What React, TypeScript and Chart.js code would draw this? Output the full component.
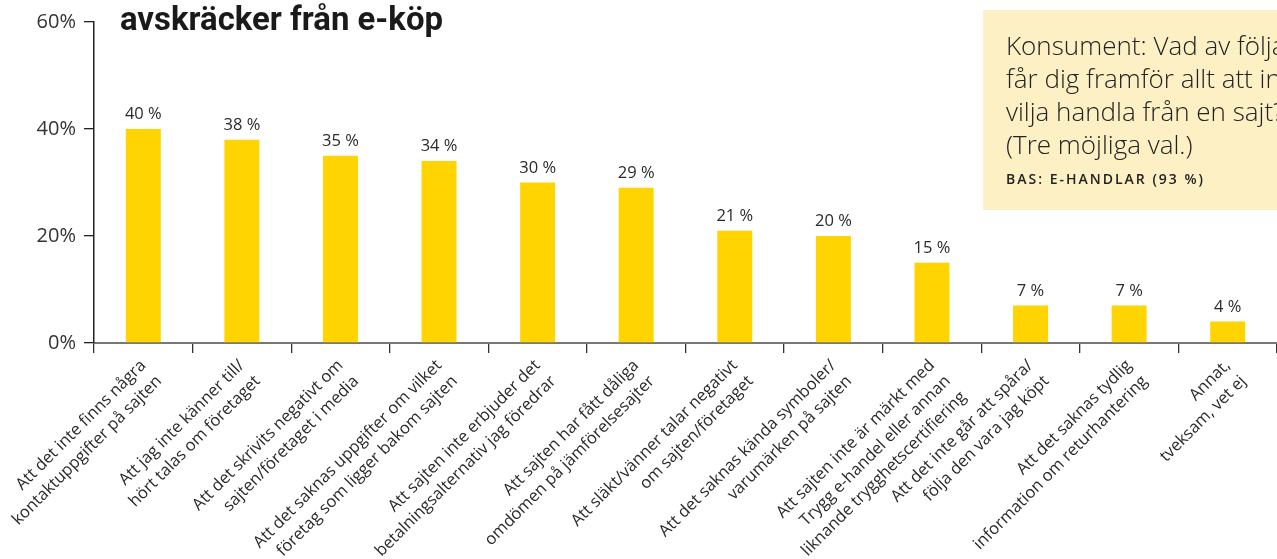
import React, { useEffect, useRef } from "react";
import { Chart, registerables } from "chart.js";

Chart.register(...registerables);

const categories: string[][] = [
  ["Att det inte finns några", "kontaktuppgifter på sajten"],
  ["Att jag inte känner till/", "hört talas om företaget"],
  ["Att det skrivits negativt om", "sajten/företaget i media"],
  ["Att det saknas uppgifter om vilket", "företag som ligger bakom sajten"],
  ["Att sajten inte erbjuder det", "betalningsalternativ jag föredrar"],
  ["Att sajten har fått dåliga", "omdömen på jämförelsesajter"],
  ["Att släkt/vänner talar negativt", "om sajten/företaget"],
  ["Att det saknas kända symboler/", "varumärken på sajten"],
  ["Att sajten inte är märkt med", "Trygg e-handel eller annan", "liknande trygghetscertifiering"],
  ["Att det inte går att spåra/", "följa den vara jag köpt"],
  ["Att det saknas tydlig", "information om returhantering"],
  ["Annat,", "tveksam, vet ej"],
];

const values: number[] = [40, 38, 35, 34, 30, 29, 21, 20, 15, 7, 7, 4];

const yTicks: number[] = [0, 20, 40, 60];

const titleText = "avskräcker från e-köp";
const boxLines: string[] = [
  "Konsument: Vad av följande",
  "får dig framför allt att inte",
  "vilja handla från en sajt?",
  "(Tre möjliga val.)",
];
const boxBase = "BAS: E-HANDLAR (93 %)";

const BAR = "#FFD400";
const TEXT = "#2a2a2a";
const FONT = '"Open Sans", "Noto Sans", sans-serif';

const W = 1277;
const H = 559;

const decorPlugin = {
  id: "decor",
  afterDatasetsDraw(chart: any) {
    const ctx = chart.ctx;
    const meta = chart.getDatasetMeta(0);
    ctx.save();
    ctx.font = `400 16.5px ${FONT}`;
    ctx.fillStyle = TEXT;
    ctx.textAlign = "center";
    ctx.textBaseline = "alphabetic";
    meta.data.forEach((bar: any, i: number) => {
      ctx.fillText(`${values[i]} %`, bar.x, bar.y - 10);
    });
    ctx.restore();
  },
  afterDraw(chart: any) {
    const ctx = chart.ctx;
    ctx.save();
    // title (cut at top)
    ctx.font = `700 34px Roboto, ${FONT}`;
    ctx.fillStyle = "#1a1a1a";
    ctx.textAlign = "left";
    ctx.textBaseline = "alphabetic";
    const tw = ctx.measureText(titleText).width;
    ctx.save();
    ctx.translate(120, 30);
    ctx.scale(323 / tw, 1);
    ctx.fillText(titleText, 0, 0);
    ctx.restore();

    // info box
    ctx.fillStyle = "#FDF0C5";
    ctx.fillRect(983, 10, 320, 200);
    ctx.fillStyle = "#222222";
    ctx.font = `300 26px ${FONT}`;
    const bases = [55, 88, 121, 154];
    boxLines.forEach((l, i) => ctx.fillText(l, 1006, bases[i]));
    ctx.font = `600 14px ${FONT}`;
    (ctx as any).letterSpacing = "2px";
    ctx.fillText(boxBase, 1006, 184);
    ctx.restore();
  },
};

export default function App() {
  const ref = useRef<HTMLCanvasElement | null>(null);

  useEffect(() => {
    if (!ref.current) return;
    const chart = new Chart(ref.current, {
      type: "bar",
      data: {
        labels: categories,
        datasets: [
          {
            data: values,
            backgroundColor: BAR,
            borderWidth: 0,
            barPercentage: 1,
            categoryPercentage: 0.355,
          },
        ],
      },
      options: {
        animation: false,
        responsive: false,
        devicePixelRatio: 1,
        layout: { padding: { top: 22, right: 0, left: 0, bottom: 0 } },
        plugins: {
          legend: { display: false },
          tooltip: { enabled: false },
        },
        scales: {
          x: {
            offset: true,
            grid: {
              offset: true,
              drawOnChartArea: false,
              drawTicks: true,
              tickLength: 10,
              color: "#333333",
              lineWidth: 1.3,
            },
            border: { display: true, color: "#777777", width: 2 },
            ticks: {
              autoSkip: false,
              minRotation: 45,
              maxRotation: 45,
              padding: 2,
              color: TEXT,
              font: { family: FONT, size: 16.5, lineHeight: 1.35 },
            },
            afterFit: (s: any) => {
              s.height = 216;
              s.paddingLeft = 0;
              s.paddingRight = 0;
            },
          },
          y: {
            min: 0,
            max: 60,
            grid: {
              drawOnChartArea: false,
              drawTicks: true,
              tickLength: 10,
              color: "#222222",
              lineWidth: 1.3,
            },
            border: { display: true, color: "#222222", width: 1.5 },
            ticks: {
              padding: 8,
              color: "#333333",
              font: { family: FONT, size: 20 },
              callback: (v: any) => `${v}%`,
            },
            afterBuildTicks: (s: any) => {
              s.ticks = yTicks.map((v) => ({ value: v }));
            },
            afterFit: (s: any) => {
              s.width = 94;
            },
          },
        },
      },
      plugins: [decorPlugin],
    });
    return () => chart.destroy();
  }, []);

  return (
    <div
      style={{
        position: "fixed",
        left: 0,
        top: 0,
        width: W,
        height: H,
        overflow: "hidden",
        background: "#ffffff",
      }}
    >
      <canvas ref={ref} width={W} height={H} style={{ width: W, height: H, display: "block" }} />
    </div>
  );
}
